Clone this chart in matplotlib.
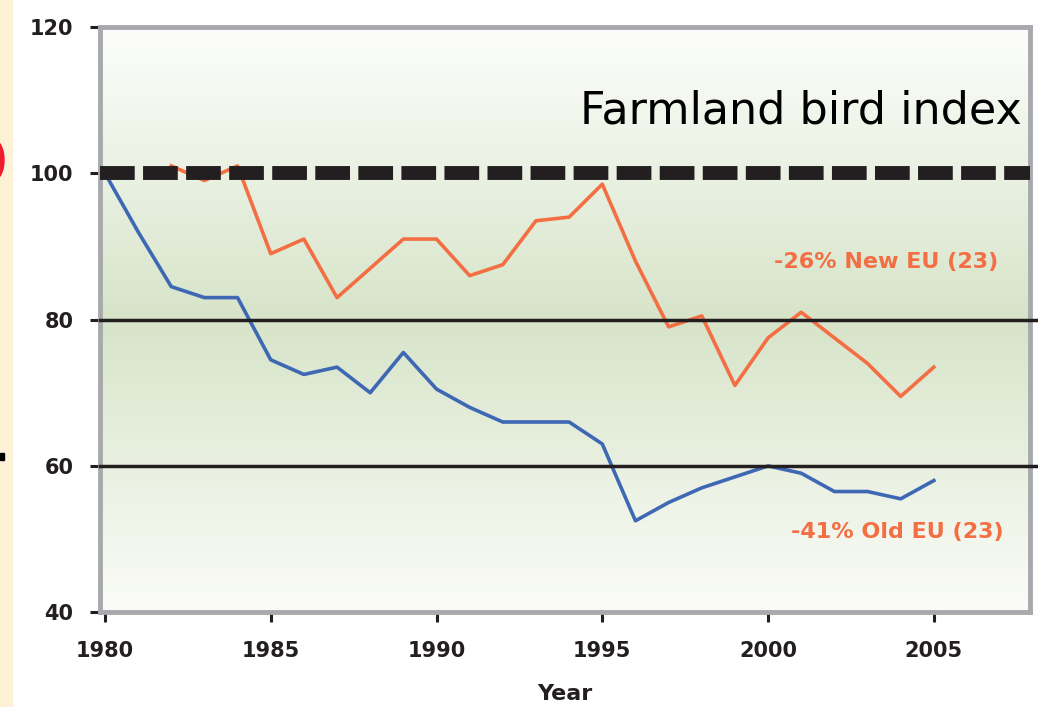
import matplotlib.pyplot as plt
import numpy as np
from matplotlib.colors import LinearSegmentedColormap
from matplotlib.patches import Ellipse, Rectangle

# Data
years_old = list(range(1980, 2006))
old_eu = [100, 92, 84.5, 83, 83, 74.5, 72.5, 73.5, 70, 75.5, 70.5, 68, 66, 66, 66,
          63, 52.5, 55, 57, 58.5, 60, 59, 56.5, 56.5, 55.5, 58]

years_new = list(range(1982, 2006))
new_eu = [101, 99, 101, 89, 91, 83, 87, 91, 91, 86, 87.5, 93.5, 94, 98.5,
          88, 79, 80.5, 71, 77.5, 81, 77.5, 74, 69.5, 73.5]

x_ticks = [1980, 1985, 1990, 1995, 2000, 2005]
y_ticks = [40, 60, 80, 100, 120]

blue = '#3e67b4'
orange = '#f36f43'
spine_grey = '#a7a9ac'
ink = '#231f20'

fig = plt.figure(figsize=(10.38, 7.07), dpi=100)
fig.patch.set_facecolor('white')

# cropped leftovers on the far left of the original picture
fig.patches.append(Rectangle((0, 0), 0.012, 1, transform=fig.transFigure,
                             color='#fdf1d6', zorder=0))
fig.patches.append(Ellipse((-6, 707 - 160), 20, 40, transform=None,
                           color='#ee1c2e', zorder=1))
fig.patches.append(Rectangle((0, 707 - 460), 4, 7, transform=None,
                             color='black', zorder=1))

ax = fig.add_axes([0.0963, 0.134, 0.896, 0.828])
ax.set_xlim(1979.85, 2007.9)
ax.set_ylim(40, 120)

# green gradient background
grad = LinearSegmentedColormap.from_list('g', [(0, '#fdfefc'), (0.5, '#d7e4c9'), (1, '#fbfcf8')])
ax.imshow(np.linspace(0, 1, 256).reshape(-1, 1), cmap=grad, aspect='auto',
          extent=[0, 1, 0, 1], transform=ax.transAxes, zorder=0)

# reference lines
ax.axhline(100, color=ink, lw=10, dashes=(2.5, 0.6), zorder=3)
ax.plot([0, 1.01], [80, 80], transform=ax.get_yaxis_transform(), color=ink,
        lw=2.5, clip_on=False, zorder=3)
ax.plot([0, 1.01], [60, 60], transform=ax.get_yaxis_transform(), color=ink,
        lw=2.5, clip_on=False, zorder=3)

ax.plot(years_old, old_eu, color=blue, lw=2.6, zorder=2)
ax.plot(years_new, new_eu, color=orange, lw=2.6, zorder=2)

ax.text(0.845, 0.598, '-26% New EU (23)', color=orange, fontsize=16,
        fontweight='bold', ha='center', va='center', transform=ax.transAxes)
ax.text(0.857, 0.137, '-41% Old EU (23)', color=orange, fontsize=16,
        fontweight='bold', ha='center', va='center', transform=ax.transAxes)
ax.text(0.991, 0.856, 'Farmland bird index', fontsize=32, ha='right', va='center',
        color='black', transform=ax.transAxes)

for s in ax.spines.values():
    s.set_color(spine_grey)
    s.set_linewidth(3.5)

ax.set_xticks(x_ticks)
ax.set_yticks(y_ticks)
ax.tick_params(axis='both', direction='out', length=7, width=2.2, color=ink,
               labelsize=15)
ax.tick_params(axis='y', pad=12)
ax.tick_params(axis='x', pad=14)
for lab in ax.get_xticklabels() + ax.get_yticklabels():
    lab.set_fontweight('bold')
    lab.set_color(ink)

ax.set_xlabel('Year', fontsize=16, fontweight='bold', labelpad=16, color=ink)

plt.savefig('out.png', dpi=100)
